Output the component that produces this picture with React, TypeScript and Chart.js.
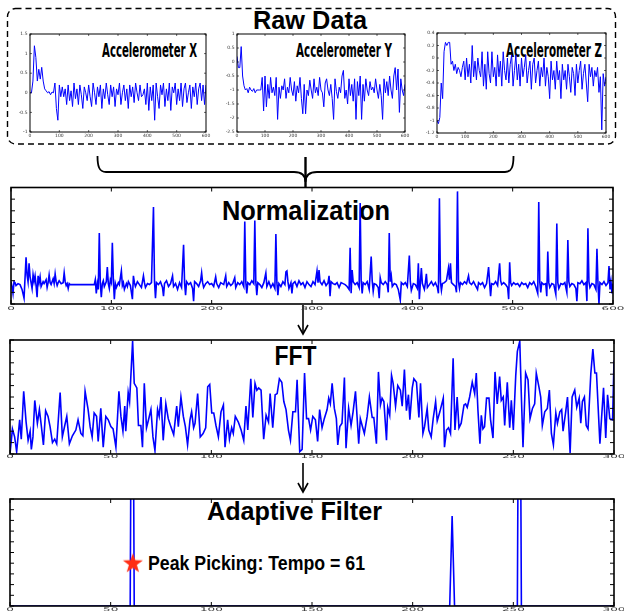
import React, { useEffect, useRef } from 'react';
import { Chart, registerables } from 'chart.js';

Chart.register(...registerables);

type Pt = [number, number];

// ---------- Raw data (accelerometer), sampled every 5 samples ----------
const RAW_X_SAMPLES = Array.from({ length: 121 }, (_, i) => i * 5);

const ACC_X = [
  0.0, 0.0, 0.3, 1.2, 0.9, 0.3, 0.6, 0.35, 0.65, 0.3,
  0.1, 0.05, 0.0, 0.03, -0.05, 0.02, 0.0, 0.25, -0.4, -0.7,
  0.2, -0.1, 0.15, -0.1, 0.1, -0.3, 0.2, -0.2, 0.05, -0.35,
  0.25, -0.15, 0.1, -0.3, 0.2, -0.05, -0.4, 0.15, 0.0, -0.2,
  0.2, -0.1, -0.35, 0.25, 0.0, -0.3, 0.15, -0.1, 0.2, -0.4,
  0.1, -0.15, 0.25, -0.05, -0.3, 0.2, -0.1, 0.15, -0.35, 0.1,
  -0.05, 0.25, -0.3, 0.0, 0.2, -0.2, 0.1, -0.4, 0.2, -0.1,
  0.15, -0.25, 0.25, 0.0, -0.2, 0.2, -0.1, -0.05, 0.1, -0.3,
  0.25, -0.45, 0.15, -0.2, 0.2, -0.7, 0.25, -0.1, -0.4, 0.2,
  -0.05, 0.25, -0.35, 0.1, -0.2, 0.25, -0.45, 0.15, 0.0, 0.25,
  -0.3, 0.1, -0.2, 0.25, -0.35, 0.1, 0.25, -0.25, 0.0, 0.2,
  -0.4, 0.15, -0.1, 0.25, -0.3, 0.1, 0.25, -0.2, 0.2, -0.3,
  0.2,
];

const ACC_Y = [
  0.2, -0.2, -0.2, 0.55, -0.5, -0.85, -1.0, -0.95, -1.1, -0.9,
  -1.0, -1.05, -0.95, -1.1, -1.0, -1.0, -1.0, -1.0, -0.55, -1.75,
  -0.5, -1.6, -0.8, -1.3, -0.55, -1.1, -0.9, -1.2, -0.55, -2.05,
  -0.9, -1.3, -0.85, -1.0, -0.6, -1.3, -0.9, -1.1, -0.55, -1.0,
  -1.2, -0.7, -1.4, -0.85, -1.1, -0.55, -1.3, -1.85, -0.8, -1.85,
  -1.0, -1.2, -0.65, -1.0, -1.3, -0.6, -1.1, -0.9, -1.2, -0.55,
  -1.0, -1.1, -1.6, -0.75, -0.6, -1.0, -1.2, -0.8, -1.3, -2.05,
  -0.6, -1.05, -1.3, -0.9, -1.1, -0.5, -0.3, -1.3, -1.0, -1.5,
  -0.6, -1.2, -0.8, -1.4, -0.6, -2.05, -0.7, -1.2, -0.5, -2.05,
  -0.8, -1.4, -0.6, -1.0, -1.2, -0.7, -1.0, -0.9, -1.1, -0.6,
  -1.0, -1.3, -0.8, -1.2, -2.05, -0.6, -1.1, -0.7, -1.2, -0.5,
  -1.0, -1.3, -0.5, -0.2, -1.0, -0.25, -1.8, -0.6, -1.0, -1.2,
  -0.8,
];

const ACC_Z = [
  -1.0, -1.05, -0.95, -0.4, -0.65, 0.1, 0.25, 0.2, 0.25, 0.25,
  -0.1, -0.05, -0.2, -0.1, -0.25, -0.15, -0.2, -0.3, -0.15, -0.05,
  -0.35, 0.0, -0.3, -0.1, -0.4, 0.2, -0.3, -0.05, -0.35, 0.0,
  -0.2, -0.3, 0.1, -0.45, -0.1, -0.5, 0.1, -0.25, -0.4, 0.1,
  -0.3, -0.15, -0.45, 0.05, -0.3, -0.05, -0.45, 0.1, -0.2, -0.35,
  0.0, -0.4, -0.1, 0.05, -0.45, -0.2, 0.05, -0.35, -0.1, -0.45,
  0.0, -0.3, -0.15, 0.05, -0.4, -0.2, -0.05, -0.5, -0.1, 0.0,
  -0.4, -0.2, -0.05, -0.45, -0.15, -0.3, 0.0, -0.45, -0.15, -0.3,
  -0.65, -0.05, -0.35, -0.2, -0.5, -0.05, -0.35, -0.2, -0.65, -0.1,
  -0.35, -0.2, -0.5, -0.1, -0.3, -0.55, -0.15, -0.25, -0.6, -0.1,
  -0.4, -0.2, -0.05, -0.5, -0.25, -0.1, -0.4, -0.7, -0.1, -0.3,
  -0.15, -0.45, -0.2, -0.3, -0.15, -0.55, -0.3, -1.15, -0.25, -0.45,
  -0.3,
];

const RAW_X_TICKS = [0, 100, 200, 300, 400, 500, 600];
const RAW_X_TICK_LABELS = ['0', '100', '200', '300', '400', '500', '600'];
const ACC_X_Y_TICKS = [-1, -0.5, 0, 0.5, 1, 1.5];
const ACC_X_Y_LABELS = ['-1', '-0.5', '0', '0.5', '1', '1.5'];
const ACC_Y_Y_TICKS = [-2.5, -2, -1.5, -1, -0.5, 0, 0.5, 1];
const ACC_Y_Y_LABELS = ['-2.5', '-2', '-1.5', '-1', '-0.5', '0', '0.5', '1'];
const ACC_Z_Y_TICKS = [-1.2, -1, -0.8, -0.6, -0.4, -0.2, 0, 0.2, 0.4];
const ACC_Z_Y_LABELS = ['-1.2', '-1', '-0.8', '-0.6', '-0.4', '-0.2', '0', '0.2', '0.4'];

// ---------- Normalization ----------
const NORM_POINTS: Pt[] = [
  [0, 0.3], [1, -0.2], [2, -0.9], [3, 0.3], [4, 0.2], [5, -0.1], [7, 0.1], [9, 0], [11, -0.5], [13, -1.4],
  [15, 2.8], [16, 1.0], [17, 0.3], [18, 2.2], [19, 0.8], [20, 0.2], [21, -0.4], [22, 1.0], [23, 0.3], [24, 0.9],
  [25, -0.1], [26, -1.3], [27, 0.9], [28, 0.2], [29, 0.8], [30, -0.2], [32, 0.3], [33, 0.1], [35, 0.5], [36, -0.3],
  [37, 0.2], [38, 1.0], [39, 0.2], [40, 0.0], [42, 0.6], [43, 0.1], [44, 1.1], [45, 0.3], [46, -0.1], [47, 0.2],
  [48, 0.4], [50, 0.1], [52, 0.2], [53, 1.2], [54, 0.3], [55, -0.1], [56, 0.1], [57, -0.4], [58, 0.1], [59, 0],
  [83, 0], [84, 0.5], [85, -0.9], [86, 0.1], [87, -0.5], [88, 5.3], [89, 0.2], [90, -1.3], [91, 0.1], [92, 0.4],
  [93, -0.2], [95, 0.3], [96, 1.8], [97, 0.1], [98, -0.4], [99, 0.5], [100, 0.2], [101, 4.3], [102, 0.5], [103, -1.5],
  [104, 0.1], [105, -0.3], [107, 0.2], [108, 0.0], [110, 1.4], [111, -0.1], [112, 0.2], [113, -0.5], [115, 0.1], [116, -0.2],
  [117, 0.3], [119, -0.1], [121, -1.5], [122, 0.9], [123, 0.2], [124, -0.2], [126, 0.3], [128, 0.0], [130, -0.3], [132, 0.9],
  [133, 0.2], [134, -0.3], [136, 0.1], [138, 0.0], [140, 0.2], [142, 8.0], [143, 0.4], [144, -1.4], [145, 0.2], [147, 0.0],
  [149, 0.3], [151, -0.3], [152, -1.2], [153, 0.1], [155, 0.4], [157, -0.2], [159, 0.1], [161, 0.9], [162, -0.2], [164, 0.1],
  [166, -0.5], [168, 0.2], [170, -0.3], [172, 4.1], [173, 0.2], [174, -1.1], [175, 0.3], [177, 0.0], [179, 0.2], [181, -0.4],
  [182, -1.7], [183, 0.3], [185, 0.1], [187, -0.2], [189, 0.4], [190, 1.2], [191, 0.2], [192, -0.3], [194, 0.1], [196, 0.3],
  [198, 0.0], [200, 0.1], [202, -0.2], [204, 0.8], [205, 0.1], [207, -0.3], [209, 0.2], [212, 0.0], [214, 0.9], [215, -0.2],
  [217, 0.2], [219, -0.1], [221, 0.1], [223, 0.7], [224, -0.3], [226, 0.2], [228, 0.0], [230, 0.3], [232, -0.2], [233, 6.5],
  [234, 0.3], [235, -0.9], [236, 0.2], [238, 0.0], [240, 0.4], [242, 0.1], [243, 6.6], [244, 0.3], [245, -1.1], [246, 0.2],
  [248, 0.0], [250, -0.3], [252, 0.2], [254, 1.2], [255, -0.2], [257, 0.3], [259, -0.3], [261, 0.1], [263, -0.4], [264, 5.2],
  [265, 0.2], [266, -1.1], [267, 0.1], [269, -0.2], [271, 0.3], [273, 0.0], [274, 1.3], [275, 1.4], [276, 0.3], [277, -0.4],
  [279, 0.2], [280, -0.9], [281, 0.1], [283, 0.3], [285, -0.2], [287, 0.4], [289, 0.0], [291, 0.2], [293, -0.3], [295, 0.3],
  [297, 0.0], [299, -0.2], [301, 0.3], [303, 0.0], [305, 1.4], [306, 0.2], [307, 1.5], [308, 0.3], [310, 0.0], [312, 0.4],
  [314, -0.1], [316, 0.2], [317, 0.9], [318, -1.2], [319, 0.3], [321, 0.1], [323, 0.0], [325, 0.2], [327, -0.3], [329, 0.2],
  [331, 0.1], [333, 0.0], [335, -0.2], [337, -0.5], [338, 3.8], [339, -0.9], [340, 1.5], [341, 0.3], [343, 0.0], [345, 0.2],
  [347, -0.3], [348, 8.4], [349, 0.4], [350, -0.9], [351, 0.2], [353, 0.0], [355, 0.3], [357, -0.5], [359, 2.9], [360, 0.4],
  [361, -0.7], [362, 0.1], [364, 0.0], [366, -0.3], [367, -1.4], [368, 0.7], [369, 0.2], [371, 0.0], [373, 0.3], [375, 0.0],
  [376, -0.8], [377, 5.3], [378, 0.3], [379, 0.9], [380, -0.2], [382, 0.1], [384, 0.0], [386, -0.5], [388, -1.6], [389, 0.2],
  [391, 0.0], [393, 0.2], [395, -0.2], [397, 3.0], [398, 0.3], [399, -0.6], [401, 0.1], [403, 0.0], [405, -0.4], [406, 2.2],
  [407, -1.5], [408, 0.2], [409, 1.7], [410, 0.1], [412, -0.5], [413, 0.2], [414, 1.1], [415, -0.3], [417, 0.0], [419, 0.3],
  [421, -0.1], [423, 0.2], [425, -0.3], [426, -0.9], [427, 8.9], [428, 0.3], [429, -0.6], [430, 0.1], [432, 0.2], [434, 0.4],
  [436, 1.7], [437, 0.5], [438, 2.2], [439, 0.2], [441, 0.0], [443, -0.2], [444, -0.8], [445, 9.6], [446, 0.3], [447, -0.4],
  [448, 0.2], [450, 0.0], [452, 0.3], [454, 0.1], [456, 0.9], [457, 0.2], [459, 0.0], [461, 0.3], [463, -0.1], [465, -0.5],
  [466, 0.2], [468, 0.0], [470, 0.2], [472, -0.3], [474, 0.1], [476, 1.8], [477, 0.2], [478, -1.2], [479, 0.1], [481, 0.0],
  [483, 0.3], [485, -0.1], [487, 2.2], [488, 0.4], [489, 0.0], [491, 0.2], [493, 0.0], [495, -0.3], [496, -1.5], [497, 2.3],
  [498, 0.2], [499, -0.1], [501, 0.2], [503, 0.0], [505, 0.1], [507, -0.2], [509, 0.2], [511, 0.0], [513, 0.1], [515, -0.3],
  [517, 0.2], [519, 0.0], [521, 0.3], [523, -0.2], [525, -0.9], [526, 8.5], [527, 0.3], [528, -0.8], [529, 0.2], [531, 0.0],
  [533, 0.1], [534, -1.2], [535, 3.4], [536, 0.2], [537, -0.3], [539, 0.1], [541, 0.0], [543, -1.0], [544, 6.3], [545, 0.2],
  [546, -0.4], [548, 0.1], [550, 0.0], [552, 0.2], [554, -0.8], [555, 4.6], [556, 0.3], [557, -0.2], [559, 0.1], [561, 0.0],
  [563, -0.4], [564, -1.7], [565, 0.2], [567, 0.1], [569, 0.4], [571, 0.0], [573, 0.2], [574, -1.7], [575, 5.8], [576, 0.3],
  [577, -0.3], [579, 0.1], [581, 0.0], [583, -0.5], [584, 3.7], [585, 0.2], [586, -2.0], [587, 0.2], [589, 0.0], [591, 0.3],
  [593, -0.1], [595, 0.2], [596, 1.9], [597, -0.5], [598, 0.3], [599, -0.9], [600, 0.1],
];
const NORM_X_TICKS = [0, 100, 200, 300, 400, 500, 600];
const NORM_X_LABELS = ['0', '100', '200', '300', '400', '500', '600'];
const NORM_Y_TICKS = [-2, -0.8, 0.4, 1.6, 2.8, 4, 5.2, 6.4, 7.6, 8.8, 10];

// ---------- FFT ----------
const FFT_POINTS: Pt[] = [
  [0, 0], [1.2, 2.2], [2.3, 1.5], [3.3, 0.2], [4.8, 3.0], [5.6, 1.3], [6.8, 5.5], [8.0, 2.8], [9.0, 1.2], [10.0, 2.0],
  [10.6, 0.4], [11.4, 1.5], [12.3, 4.7], [13.6, 2.7], [14.6, 3.9], [15.6, 2.4], [16.6, 0.8], [17.7, 3.8], [18.9, 3.3], [19.9, 2.4],
  [21.1, 1.0], [22.2, 1.3], [23.2, 0.9], [24.9, 5.4], [26.0, 1.5], [27.2, 2.5], [28.2, 3.3], [29.5, 0.9], [31.0, 1.6], [32.7, 2.1],
  [33.8, 3.0], [35.2, 1.8], [36.2, 1.6], [37.3, 5.5], [38.8, 3.9], [39.8, 2.4], [40.8, 1.5], [41.8, 3.6], [43.0, 3.3], [43.8, 1.1],
  [45.1, 4.0], [46.3, 0.6], [47.6, 3.3], [48.8, 3.0], [50.1, 2.4], [51.2, 2.2], [52.6, 0.6], [54.1, 5.5], [55.1, 3.3], [56.1, 2.0],
  [57.0, 4.2], [57.5, 2.0], [58.7, 5.4], [59.4, 4.6], [60.9, 9.9], [61.7, 6.2], [63.0, 5.8], [63.8, 2.5], [65.0, 2.5], [65.8, 0.6],
  [66.7, 6.2], [67.8, 2.3], [68.8, 3.0], [70.0, 3.9], [71.0, 1.5], [72.0, 0.3], [73.3, 3.9], [74.1, 3.3], [75.0, 5.0], [76.1, 1.2],
  [77.4, 4.4], [78.6, 3.1], [79.9, 2.4], [81.3, 1.7], [82.8, 4.2], [83.6, 2.4], [84.9, 5.0], [86.1, 3.3], [87.1, 2.4], [88.2, 0.8],
  [89.4, 3.0], [90.2, 3.7], [91.2, 2.3], [91.9, 2.7], [93.2, 5.3], [94.5, 1.5], [95.9, 1.8], [97.2, 2.3], [98.2, 5.9], [99.2, 6.1],
  [100.2, 3.6], [101.2, 3.6], [102.3, 2.5], [103.5, 1.5], [104.8, 3.7], [106.0, 4.3], [106.8, 0.6], [108.1, 3.0], [109.0, 1.3], [110.1, 2.3],
  [110.9, 1.8], [111.9, 3.3], [113.4, 2.8], [114.8, 2.1], [116.1, 1.2], [117.2, 4.2], [118.1, 2.1], [119.6, 6.6], [120.6, 3.2], [121.7, 6.2],
  [122.6, 5.6], [123.5, 5.8], [124.7, 5.6], [126.0, 1.3], [127.2, 3.4], [128.4, 2.8], [129.2, 5.3], [130.5, 2.3], [131.7, 5.2], [132.7, 5.3],
  [133.8, 6.6], [135.0, 6.3], [136.0, 4.6], [137.1, 3.9], [138.3, 2.1], [139.3, 1.2], [140.5, 3.7], [141.8, 3.7], [142.6, 6.5], [143.9, 0.2],
  [145.1, 0.4], [146.3, 7.1], [147.3, 3.1], [148.3, 3.1], [149.3, 2.1], [150.4, 3.3], [151.7, 3.0], [152.8, 1.1], [153.8, 3.9], [155.0, 2.3],
  [156.1, 3.1], [157.5, 3.9], [158.3, 4.9], [159.1, 4.4], [160.0, 6.2], [161.1, 4.0], [162.1, 3.1], [162.8, 0.8], [163.8, 2.4], [164.9, 2.7],
  [166.1, 6.7], [166.9, 0.5], [168.2, 4.0], [169.4, 2.5], [170.4, 3.7], [171.6, 5.5], [173.2, 0.9], [174.0, 3.1], [174.9, 2.5], [176.0, 1.8],
  [177.4, 3.3], [178.5, 5.0], [179.9, 3.2], [180.7, 3.2], [182.0, 0.9], [183.0, 7.2], [184.0, 4.3], [184.8, 4.9], [185.7, 4.6], [187.0, 1.2],
  [187.6, 4.1], [188.6, 3.4], [189.5, 6.9], [190.3, 6.2], [191.5, 4.2], [192.6, 6.0], [193.9, 5.6], [194.8, 4.2], [195.9, 7.4], [196.9, 3.8],
  [197.9, 5.2], [198.6, 3.0], [199.8, 5.8], [200.6, 6.6], [201.9, 6.3], [203.1, 3.2], [203.9, 6.2], [205.1, 1.8], [205.9, 2.4], [207.2, 4.0],
  [208.0, 2.1], [209.2, 1.5], [210.2, 3.1], [211.4, 4.6], [212.2, 2.9], [213.5, 3.7], [215.2, 4.9], [215.8, 0.6], [216.8, 2.1], [217.8, 2.3],
  [218.8, 1.8], [220.1, 8.4], [221.0, 2.1], [222.1, 5.0], [223.0, 2.3], [224.1, 2.7], [225.5, 4.3], [226.3, 4.4], [227.1, 4.1], [228.3, 5.0],
  [229.6, 6.3], [230.8, 5.3], [231.6, 7.1], [232.4, 3.9], [233.4, 0.9], [234.1, 3.4], [234.9, 2.2], [235.7, 2.4], [236.7, 4.9], [237.9, 4.9],
  [238.7, 3.0], [239.9, 1.4], [240.9, 7.2], [242.0, 4.4], [243.2, 6.8], [244.0, 4.7], [245.0, 5.0], [245.7, 2.5], [247.0, 6.3], [248.2, 2.3],
  [249.0, 4.7], [250.0, 2.1], [251.2, 6.9], [252.0, 9.0], [253.2, 9.9], [254.0, 5.0], [254.8, 0.6], [256.1, 7.1], [257.3, 6.5], [258.3, 3.1],
  [259.5, 4.0], [260.6, 4.4], [261.4, 7.1], [262.8, 5.8], [263.6, 5.0], [264.4, 2.5], [265.6, 3.7], [266.9, 4.0], [267.9, 5.6], [268.9, 1.8],
  [269.9, 0.8], [271.1, 3.6], [271.9, 2.7], [273.1, 3.7], [274.0, 3.9], [274.7, 2.0], [276.0, 3.7], [276.9, 5.0], [278.2, 0.1], [279.2, 5.0],
  [280.5, 5.6], [281.5, 4.1], [282.7, 4.9], [283.5, 2.7], [284.3, 4.6], [285.3, 5.0], [286.2, 2.5], [287.1, 2.2], [288.5, 7.1], [289.5, 9.2],
  [290.5, 7.1], [291.3, 7.1], [292.1, 4.2], [293.0, 0.9], [293.8, 3.1], [294.8, 5.8], [295.9, 1.4], [296.8, 5.2], [297.9, 3.1], [299.3, 3.0],
  [300, 8.2],
];
const FFT_X_TICKS = [0, 50, 100, 150, 200, 250, 300];
const FFT_X_LABELS = ['0', '50', '100', '150', '200', '250', '300'];
const FFT_Y_TICKS = [0, 1, 2, 3, 4, 5, 6, 7, 8, 9, 10];

// ---------- Adaptive filter ----------
const FILTER_POINTS: Pt[] = [
  [0, 0], [59.7, 0], [60.7, 40], [61.7, 0], [218.4, 0], [219.6, 8.4], [220.8, 0],
  [252.0, 0], [253.0, 40], [254.0, 0], [300, 0],
];
const PEAK_TEMPO = 61;
const PEAK_MARK_Y = 4.05;

// ---------- Plot helper ----------
const framePlugin = {
  id: 'frame',
  afterDatasetsDraw(chart: any, _args: any, o: any) {
    const { ctx, chartArea: a } = chart;
    const xs = chart.scales.x;
    const ys = chart.scales.y;
    ctx.save();
    ctx.strokeStyle = '#000';
    ctx.lineWidth = o.tickWidth;
    ctx.beginPath();
    for (const v of o.xTicks) {
      const px = xs.getPixelForValue(v);
      ctx.moveTo(px, a.bottom);
      ctx.lineTo(px, a.bottom - o.tickLen);
      ctx.moveTo(px, a.top);
      ctx.lineTo(px, a.top + o.tickLen);
    }
    for (const v of o.yTicks) {
      const py = ys.getPixelForValue(v);
      ctx.moveTo(a.left, py);
      ctx.lineTo(a.left + o.tickLen, py);
      ctx.moveTo(a.right, py);
      ctx.lineTo(a.right - o.tickLen, py);
    }
    ctx.stroke();
    ctx.lineWidth = o.borderWidth;
    ctx.strokeRect(a.left, a.top, a.right - a.left, a.bottom - a.top);
    ctx.fillStyle = o.labelColor;
    ctx.font = o.font;
    ctx.textBaseline = 'middle';
    if (o.xLabels) {
      ctx.textAlign = 'center';
      o.xTicks.forEach((v: number, i: number) => {
        ctx.save();
        ctx.translate(xs.getPixelForValue(v), a.bottom + o.xOff);
        ctx.scale(o.sx, o.sy);
        ctx.fillText(o.xLabels[i], 0, 0);
        ctx.restore();
      });
    }
    if (o.yLabels) {
      ctx.textAlign = 'right';
      o.yTicks.forEach((v: number, i: number) => {
        ctx.save();
        ctx.translate(a.left - o.yOff, ys.getPixelForValue(v));
        ctx.scale(o.sx, o.sy);
        ctx.fillText(o.yLabels[i], 0, 0);
        ctx.restore();
      });
    }
    ctx.restore();
  },
};

function makeStar(): HTMLCanvasElement {
  const c = document.createElement('canvas');
  c.width = 22;
  c.height = 22;
  const g = c.getContext('2d')!;
  g.fillStyle = '#ff2d14';
  g.beginPath();
  for (let i = 0; i < 10; i++) {
    const r = i % 2 === 0 ? 10.5 : 4.2;
    const ang = -Math.PI / 2 + (i * Math.PI) / 5;
    const px = 11 + r * Math.cos(ang);
    const py = 12 + r * Math.sin(ang);
    if (i === 0) g.moveTo(px, py);
    else g.lineTo(px, py);
  }
  g.closePath();
  g.fill();
  return c;
}

interface PlotProps {
  left: number;
  top: number;
  width: number;
  height: number;
  pad: { left: number; top: number; right: number; bottom: number };
  xMin: number;
  xMax: number;
  yMin: number;
  yMax: number;
  points: Pt[];
  lineWidth: number;
  frame: any;
  star?: Pt;
}

function Plot(p: PlotProps) {
  const ref = useRef<HTMLCanvasElement>(null);
  useEffect(() => {
    const datasets: any[] = [];
    if (p.star) {
      datasets.push({
        data: [{ x: p.star[0], y: p.star[1] }],
        showLine: false,
        pointStyle: makeStar(),
        pointRadius: 10,
        borderWidth: 0,
      });
    }
    datasets.push({
      data: p.points.map(([x, y]) => ({ x, y })),
      borderColor: '#0000ff',
      borderWidth: p.lineWidth,
      pointRadius: 0,
      tension: 0,
      fill: false,
    });
    const chart = new Chart(ref.current!, {
      type: 'line',
      data: { datasets },
      options: {
        animation: false,
        responsive: false,
        maintainAspectRatio: false,
        events: [],
        layout: { padding: p.pad },
        scales: {
          x: { type: 'linear', display: false, min: p.xMin, max: p.xMax },
          y: { type: 'linear', display: false, min: p.yMin, max: p.yMax },
        },
        plugins: {
          legend: { display: false },
          tooltip: { enabled: false },
          frame: p.frame,
        } as any,
      },
      plugins: [framePlugin],
    });
    return () => chart.destroy();
  }, []);
  return (
    <canvas
      ref={ref}
      width={p.width}
      height={p.height}
      style={{ position: 'absolute', left: p.left, top: p.top, width: p.width, height: p.height }}
    />
  );
}

const rawFrame = (yTicks: number[], yLabels: string[]) => ({
  xTicks: RAW_X_TICKS,
  xLabels: RAW_X_TICK_LABELS,
  yTicks,
  yLabels,
  tickLen: 2,
  tickWidth: 0.6,
  borderWidth: 1,
  labelColor: '#333',
  font: '4.5px "DejaVu Sans"',
  sx: 1,
  sy: 1,
  xOff: 4,
  yOff: 2.5,
});

const bigFrame = (xTicks: number[], xLabels: string[], yTicks: number[], xOff: number) => ({
  xTicks,
  xLabels,
  yTicks,
  tickLen: 4,
  tickWidth: 1,
  borderWidth: 1.6,
  labelColor: '#3a3a3a',
  font: '6px "DejaVu Sans"',
  sx: 2,
  sy: 0.85,
  xOff,
});

const rawPts = (vals: number[]): Pt[] => vals.map((v, i) => [RAW_X_SAMPLES[i], v]);

const TITLE_FONT = '"Liberation Sans", Arial, Helvetica, sans-serif';
const COND_FONT = '"DejaVu Sans Condensed", "DejaVu Sans", sans-serif';

export default function App() {
  return (
    <div
      style={{
        position: 'absolute',
        left: 0,
        top: 0,
        width: 624,
        height: 616,
        background: '#fff',
        overflow: 'hidden',
      }}
    >
      <svg
        width={624}
        height={616}
        style={{ position: 'absolute', left: 0, top: 0 }}
      >
        <rect x={7.5} y={8.5} width={608} height={135.5} rx={8} fill="none" stroke="#000" strokeWidth={1.4} strokeDasharray="6 4" />
        <path
          d="M97.5,156 C97.5,166 99,172 106,172 L294,172 C301,172 305.5,175 305.5,182 C305.5,175 310,172 317,172 L505,172 C512,172 513.5,166 513.5,156"
          fill="none"
          stroke="#000"
          strokeWidth={1.8}
        />
        <line x1={305.5} y1={157} x2={305.5} y2={187} stroke="#000" strokeWidth={2.4} />
        <line x1={303} y1={305} x2={303} y2={334} stroke="#000" strokeWidth={1.6} />
        <polyline points="298,325 303,334 308,325" fill="none" stroke="#000" strokeWidth={1.6} />
        <line x1={303} y1={463} x2={303} y2={492} stroke="#000" strokeWidth={1.6} />
        <polyline points="298,483 303,492 308,483" fill="none" stroke="#000" strokeWidth={1.6} />

        <text x={310} y={29} textAnchor="middle" fontFamily={TITLE_FONT} fontWeight="bold" fontSize={25} textLength={114} lengthAdjust="spacingAndGlyphs">Raw Data</text>
        <text x={102} y={57} fontFamily={COND_FONT} fontWeight="bold" fontSize={19} textLength={95} lengthAdjust="spacingAndGlyphs">Accelerometer X</text>
        <text x={296} y={57} fontFamily={COND_FONT} fontWeight="bold" fontSize={19} textLength={96} lengthAdjust="spacingAndGlyphs">Accelerometer Y</text>
        <text x={506} y={57} fontFamily={COND_FONT} fontWeight="bold" fontSize={19} textLength={96} lengthAdjust="spacingAndGlyphs">Accelerometer Z</text>
        <text x={306} y={220} textAnchor="middle" fontFamily={TITLE_FONT} fontWeight="bold" fontSize={27} textLength={168} lengthAdjust="spacingAndGlyphs">Normalization</text>
        <text x={295.5} y={365} textAnchor="middle" fontFamily={TITLE_FONT} fontWeight="bold" fontSize={27} textLength={42} lengthAdjust="spacingAndGlyphs">FFT</text>
        <text x={294.5} y={520} textAnchor="middle" fontFamily={TITLE_FONT} fontWeight="bold" fontSize={26} textLength={175} lengthAdjust="spacingAndGlyphs">Adaptive Filter</text>
        <text x={148} y={570} fontFamily={TITLE_FONT} fontWeight="bold" fontSize={20} textLength={217} lengthAdjust="spacingAndGlyphs">{`Peak Picking: Tempo = ${PEAK_TEMPO}`}</text>
      </svg>

      <Plot
        left={14} top={30} width={200} height={110}
        pad={{ left: 16, top: 4, right: 8, bottom: 8 }}
        xMin={0} xMax={600} yMin={-1} yMax={1.5}
        points={rawPts(ACC_X)} lineWidth={1}
        frame={rawFrame(ACC_X_Y_TICKS, ACC_X_Y_LABELS)}
      />
      <Plot
        left={219} top={30} width={192} height={110}
        pad={{ left: 18, top: 4, right: 6, bottom: 8 }}
        xMin={0} xMax={600} yMin={-2.5} yMax={1}
        points={rawPts(ACC_Y)} lineWidth={1}
        frame={rawFrame(ACC_Y_Y_TICKS, ACC_Y_Y_LABELS)}
      />
      <Plot
        left={419} top={29} width={193} height={112}
        pad={{ left: 18, top: 4, right: 6, bottom: 8 }}
        xMin={0} xMax={600} yMin={-1.2} yMax={0.4}
        points={rawPts(ACC_Z)} lineWidth={1}
        frame={rawFrame(ACC_Z_Y_TICKS, ACC_Z_Y_LABELS)}
      />
      <Plot
        left={0} top={183} width={624} height={131}
        pad={{ left: 11, top: 4.5, right: 11, bottom: 10 }}
        xMin={0} xMax={600} yMin={-2} yMax={10}
        points={NORM_POINTS} lineWidth={1.6}
        frame={bigFrame(NORM_X_TICKS, NORM_X_LABELS, NORM_Y_TICKS, 4.7)}
      />
      <Plot
        left={0} top={336} width={624} height={126}
        pad={{ left: 10, top: 4, right: 10, bottom: 8 }}
        xMin={0} xMax={300} yMin={0} yMax={10}
        points={FFT_POINTS} lineWidth={1.6}
        frame={bigFrame(FFT_X_TICKS, FFT_X_LABELS, FFT_Y_TICKS, 3)}
      />
      <Plot
        left={0} top={489} width={624} height={127}
        pad={{ left: 10, top: 4, right: 10, bottom: 6 }}
        xMin={0} xMax={300} yMin={0} yMax={10}
        points={FILTER_POINTS} lineWidth={1.6}
        frame={bigFrame(FFT_X_TICKS, FFT_X_LABELS, FFT_Y_TICKS, 3.5)}
        star={[PEAK_TEMPO, PEAK_MARK_Y]}
      />
    </div>
  );
}
